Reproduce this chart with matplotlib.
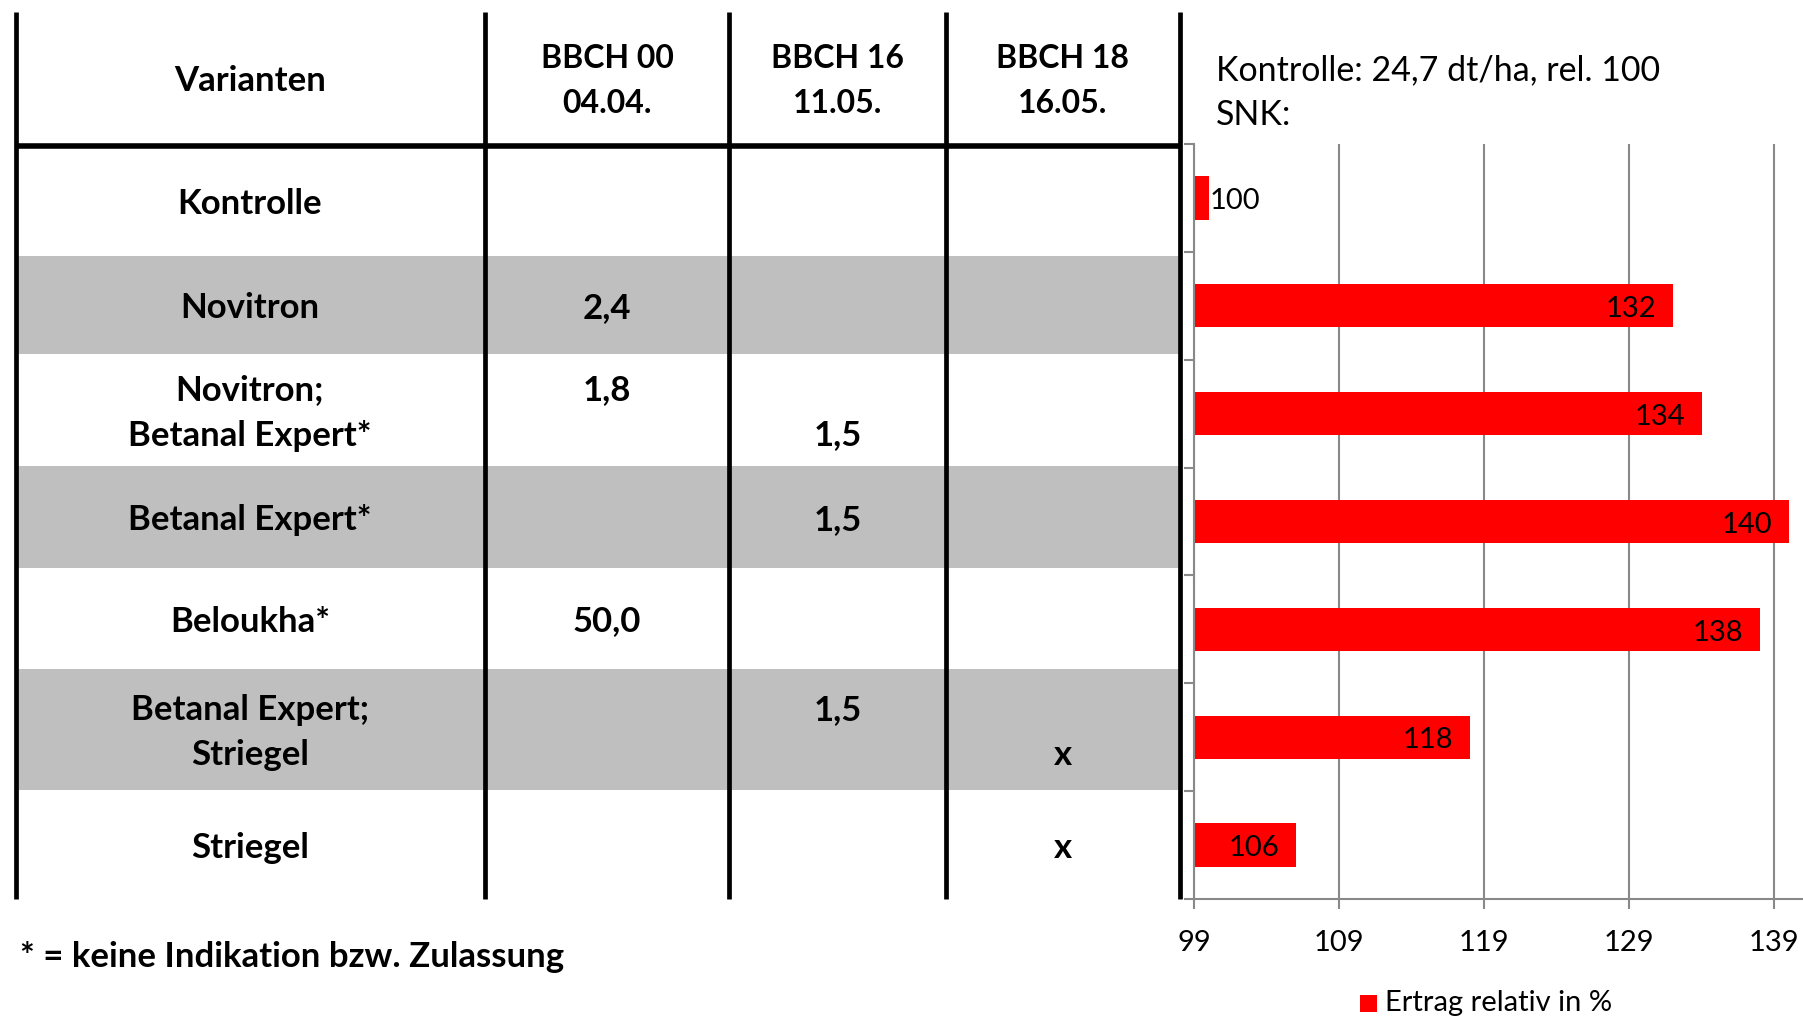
import matplotlib.pyplot as plt
import numpy as np

plt.rcParams['font.family'] = ['Lato', 'DejaVu Sans']

# Tabelle: Varianten und Aufwandmengen
spalten = ["Varianten", "BBCH 00\n04.04.", "BBCH 16\n11.05.", "BBCH 18\n16.05."]
varianten = ["Kontrolle", "Novitron", "Novitron;\nBetanal Expert*", "Betanal Expert*",
             "Beloukha*", "Betanal Expert;\nStriegel", "Striegel"]
bbch00 = ["", "2,4", "1,8\n", "", "50,0", "", ""]
bbch16 = ["", "", "\n1,5", "1,5", "", "1,5\n", ""]
bbch18 = ["", "", "", "", "", "\nx", "x"]

# Ertrag relativ in % (Kontrolle = 100)
ertrag = [100, 132, 134, 140, 138, 118, 106]
x_ticks = [99, 109, 119, 129, 139]

W, H = 1803, 1019
fig = plt.figure(figsize=(W / 100, H / 100), dpi=100)

# Ebene fuer die Tabelle, in Pixelkoordinaten
tab = fig.add_axes([0, 0, 1, 1])
tab.set_xlim(0, W)
tab.set_ylim(H, 0)
tab.axis('off')

spalten_x = [16, 485, 729, 946, 1180]
kopf = (12, 146)
zeilen_y = [146, 256, 354, 466, 568, 669, 790, 899]

# graue Streifen fuer jede zweite Zeile
for i in range(len(varianten)):
    if i % 2 == 1:
        tab.fill_between([spalten_x[0], spalten_x[-1]], zeilen_y[i], zeilen_y[i + 1],
                         color='#bfbfbf', lw=0, zorder=0)

# Linien
for x in spalten_x:
    tab.plot([x, x], [kopf[0], zeilen_y[-1]], color='black', lw=3.4,
             solid_capstyle='butt', zorder=2)
tab.plot([spalten_x[0], spalten_x[-1]], [kopf[1], kopf[1]], color='black', lw=4,
         solid_capstyle='butt', zorder=2)

mitten = [(spalten_x[k] + spalten_x[k + 1]) / 2 for k in range(4)]
mitten[0] = 250

# Kopfzeile
for k, s in enumerate(spalten):
    groesse = 25 if k == 0 else 23
    tab.text(mitten[k], (kopf[0] + kopf[1]) / 2 + 2, s, ha='center', va='center',
             fontsize=groesse, fontweight='bold', linespacing=1.65)

# Zeilen
for i in range(len(varianten)):
    yc = (zeilen_y[i] + zeilen_y[i + 1]) / 2 + 3
    for k, s in enumerate([varianten[i], bbch00[i], bbch16[i], bbch18[i]]):
        if s:
            tab.text(mitten[k], yc, s, ha='center', va='center', fontsize=25,
                     fontweight='bold', linespacing=1.5)

tab.text(20, 957, "* = keine Indikation bzw. Zulassung", ha='left', va='center',
         fontsize=25, fontweight='bold')

# Kopftext zum Diagramm
tab.text(1216, 70, "Kontrolle: 24,7 dt/ha, rel. 100", ha='left', va='center', fontsize=24.5)
tab.text(1216, 115, "SNK:", ha='left', va='center', fontsize=24.5)

# Legende
tab.add_patch(plt.Rectangle((1360, 995), 17, 17, color='#ff0000', lw=0))
tab.text(1385, 1003, "Ertrag relativ in %", ha='left', va='center', fontsize=21)

# Balkendiagramm
ax = fig.add_axes([1194 / W, (H - 899) / H, (W - 1194) / W, (899 - 144) / H])
ax.patch.set_alpha(0)
y = np.arange(len(ertrag))
ax.barh(y, ertrag, height=0.4, color='#ff0000', zorder=2)
ax.set_xlim(99, 141)
ax.set_ylim(len(ertrag) - 0.5, -0.5)

grau = '#898989'
ax.set_xticks(x_ticks)
ax.set_yticks([])
ax.set_yticks(np.arange(-0.5, len(ertrag)), minor=True)
ax.tick_params(axis='x', colors=grau, labelcolor='black', labelsize=21,
               length=7, width=1.5, pad=15)
ax.tick_params(axis='y', which='minor', colors=grau, length=7, width=1.5)
ax.grid(axis='x', color=grau, lw=1.5, zorder=0)
for s in ['top', 'right']:
    ax.spines[s].set_visible(False)
for s in ['left', 'bottom']:
    ax.spines[s].set_color(grau)
    ax.spines[s].set_linewidth(1.5)

# Datenbeschriftung
for yi, v in zip(y, ertrag):
    if v - 99 < 3:
        ax.text(v + 0.1, yi + 0.03, str(v), ha='left', va='center', fontsize=21, zorder=3)
    else:
        ax.text(v - 1.1, yi + 0.03, str(v), ha='right', va='center', fontsize=21, zorder=3)

fig.savefig('out.png', dpi=100)
